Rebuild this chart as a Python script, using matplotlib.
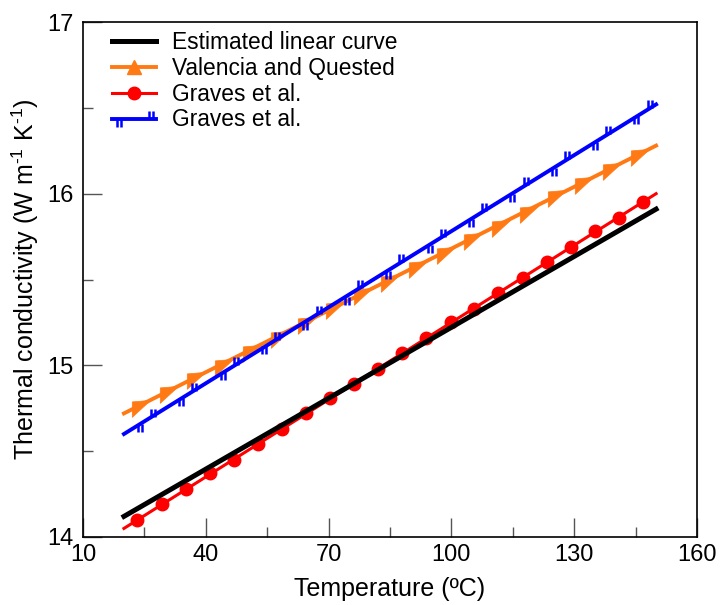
import matplotlib
matplotlib.use("Agg")
import matplotlib.pyplot as plt
from matplotlib.lines import Line2D
from matplotlib.path import Path
from matplotlib.legend_handler import HandlerBase
from matplotlib.ticker import MultipleLocator

plt.rcParams['font.family'] = ['Liberation Sans', 'DejaVu Sans']
plt.rcParams['mathtext.fontset'] = 'custom'
plt.rcParams['mathtext.rm'] = 'Liberation Sans'
plt.rcParams['mathtext.it'] = 'Liberation Sans:italic'

# line ends (temperature, degC)
line_x = [20, 150]
fit_y = [14.12, 15.91]
valencia_line_y = [14.72, 16.28]
graves_red_line_y = [14.05, 16.00]
graves_blue_line_y = [14.60, 16.52]

# marker points
valencia_x = [23.9, 30.7, 37.4, 44.2, 51.0, 57.8, 64.5, 71.3, 78.1, 84.8,
              91.6, 98.4, 105.1, 111.9, 118.7, 125.5, 132.2, 139.0, 145.8]
valencia_y = [14.77, 14.85, 14.93, 15.01, 15.09, 15.17, 15.25, 15.34, 15.42, 15.50,
              15.58, 15.66, 15.74, 15.82, 15.90, 15.99, 16.07, 16.15, 16.23]

graves_red_x = [23.3, 29.2, 35.1, 41.0, 46.8, 52.7, 58.6, 64.5, 70.4, 76.2, 82.1,
                88.0, 93.9, 99.8, 105.6, 111.5, 117.4, 123.3, 129.2, 135.0, 140.9, 146.8]
graves_red_y = [14.10, 14.19, 14.28, 14.37, 14.45, 14.54, 14.63, 14.72, 14.81, 14.89, 14.98,
                15.07, 15.16, 15.25, 15.33, 15.42, 15.51, 15.60, 15.69, 15.78, 15.86, 15.95]

blue_down_x = [23.9, 34.0, 44.1, 54.2, 64.3, 74.4, 84.6, 94.7, 104.8, 114.9, 125.0, 135.1, 145.2]
blue_down_y = [14.66, 14.81, 14.96, 15.11, 15.25, 15.40, 15.55, 15.70, 15.85, 16.00, 16.15, 16.30, 16.45]
blue_up_x = [27.1, 37.2, 47.3, 57.4, 67.6, 77.7, 87.8, 97.9, 108.0, 118.1, 128.2, 138.3, 148.4]
blue_up_y = [14.70, 14.85, 15.00, 15.15, 15.30, 15.45, 15.60, 15.75, 15.90, 16.05, 16.20, 16.35, 16.50]

labels = ["Estimated linear curve", "Valencia and Quested", "Graves et al.", "Graves et al."]

ORANGE = '#ff7a14'
RED = '#ff0000'
BLUE = '#0000ff'

# arrow-like triangle pointing along the orange line
arrow_tri = Path([(1.0, 0.5), (-0.8, 0.35), (-0.8, -1.15), (1.0, 0.5)],
                 [Path.MOVETO, Path.LINETO, Path.LINETO, Path.CLOSEPOLY])

# double tick markers (below / above the line)
codes = [Path.MOVETO, Path.LINETO, Path.MOVETO, Path.LINETO]
tick_down = Path([(-1.8, 0), (-1.8, -7), (1.8, 0), (1.8, -7)], codes)
tick_up = Path([(-1.8, 0), (-1.8, 7), (1.8, 0), (1.8, 7)], codes)
TICK_MS = 11.5
TICK_MEW = 1.8


class BlueHandler(HandlerBase):
    def create_artists(self, legend, orig_handle, xdescent, ydescent,
                       width, height, fontsize, trans):
        y = height / 2 - ydescent
        x0 = -xdescent
        line = Line2D([x0, x0 + width], [y, y], color=BLUE, lw=2.8)
        m1 = Line2D([x0 + 0.16 * width], [y], marker=tick_down, ms=TICK_MS,
                    mec=BLUE, mfc='none', mew=TICK_MEW, lw=0)
        m2 = Line2D([x0 + 0.88 * width], [y], marker=tick_up, ms=TICK_MS,
                    mec=BLUE, mfc='none', mew=TICK_MEW, lw=0)
        for a in (line, m1, m2):
            a.set_transform(trans)
        return [line, m1, m2]


fig = plt.figure(figsize=(7.25, 6.05), dpi=100)
ax = fig.add_axes([0.1145, 0.1124, 0.8469, 0.8512])

ax.plot(line_x, valencia_line_y, color=ORANGE, lw=2.8, zorder=2)
ax.plot(valencia_x, valencia_y, ls='none', marker=arrow_tri, ms=17,
        color=ORANGE, mew=0.5, zorder=2)
ax.plot(line_x, graves_blue_line_y, color=BLUE, lw=2.8, zorder=3)
ax.plot(blue_down_x, blue_down_y, ls='none', marker=tick_down, ms=TICK_MS,
        mec=BLUE, mfc='none', mew=TICK_MEW, zorder=3)
ax.plot(blue_up_x, blue_up_y, ls='none', marker=tick_up, ms=TICK_MS,
        mec=BLUE, mfc='none', mew=TICK_MEW, zorder=3)
ax.plot(line_x, graves_red_line_y, color=RED, lw=2.2, zorder=4)
ax.plot(graves_red_x, graves_red_y, ls='none', marker='o', ms=9,
        color=RED, zorder=4)
ax.plot(line_x, fit_y, color='black', lw=3.6, zorder=5)

ax.set_xlim(10, 160)
ax.set_ylim(14, 17)
ax.xaxis.set_major_locator(MultipleLocator(30, offset=10))
ax.xaxis.set_minor_locator(MultipleLocator(15, offset=10))
ax.yaxis.set_major_locator(MultipleLocator(1))
ax.yaxis.set_minor_locator(MultipleLocator(0.5))
ax.tick_params(which='both', direction='in', color='#555555', width=1,
               labelsize=17, top=False, right=False)
ax.tick_params(axis='x', which='major', length=14, pad=5)
ax.tick_params(axis='x', which='minor', length=7)
ax.tick_params(axis='y', which='major', length=14, pad=7)
ax.tick_params(axis='y', which='minor', length=7)
for s in ax.spines.values():
    s.set_linewidth(1.2)

ax.set_xlabel("Temperature (ºC)", fontsize=18, labelpad=8)
ax.set_ylabel(r"Thermal conductivity (W m$^{\text{-1}}$ K$^{\text{-1}}$)",
              fontsize=18, labelpad=4)

h_fit = Line2D([], [], color='black', lw=3.6)
h_val = Line2D([], [], color=ORANGE, lw=2.8, marker='^', ms=10)
h_red = Line2D([], [], color=RED, lw=2.2, marker='o', ms=9)
h_blue = Line2D([], [], color=BLUE, lw=2.8)
ax.legend([h_fit, h_val, h_red, h_blue], labels,
          handler_map={h_blue: BlueHandler()},
          loc='upper left', bbox_to_anchor=(0.048, 0.982), frameon=False,
          fontsize=16.4, handlelength=1.9, handletextpad=0.7,
          labelspacing=0.12, borderpad=0, borderaxespad=0)

fig.savefig("out.png", dpi=100)
